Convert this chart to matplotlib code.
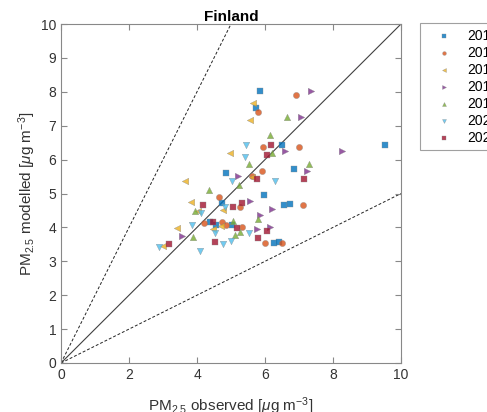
import matplotlib
matplotlib.use("Agg")
import matplotlib.pyplot as plt
import numpy as np

plt.rcParams['font.family'] = ['Liberation Sans', 'DejaVu Sans']
plt.rcParams['mathtext.fontset'] = 'custom'
plt.rcParams['mathtext.rm'] = 'Liberation Sans'
plt.rcParams['mathtext.it'] = 'Liberation Sans:italic'

years = ['2015', '2016', '2017', '2018', '2019', '2020', '2021']

# observed / modelled per year
obs_2015 = [5.86, 5.74, 6.50, 9.53, 6.85, 4.85, 5.96, 4.74, 6.57, 6.74, 4.37, 4.55, 5.02, 6.27, 6.41]
mod_2015 = [8.03, 7.51, 6.44, 6.44, 5.72, 5.59, 4.96, 4.71, 4.65, 4.69, 4.17, 4.06, 4.07, 3.54, 3.57]

obs_2016 = [6.92, 5.79, 5.94, 6.99, 5.92, 5.61, 4.66, 5.27, 7.13, 4.21, 4.74, 4.86, 5.33, 6.00, 6.51]
mod_2016 = [7.91, 7.41, 6.38, 6.38, 5.65, 5.52, 4.89, 4.60, 4.66, 4.13, 4.17, 4.06, 4.00, 3.54, 3.54]

obs_2017 = [5.64, 5.57, 4.98, 5.62, 3.65, 3.82, 4.02, 4.75, 4.71, 3.40, 4.46, 2.99]
mod_2017 = [7.66, 7.16, 6.19, 5.50, 5.36, 4.75, 4.47, 4.50, 4.05, 3.99, 3.96, 3.44]

obs_2018 = [7.34, 7.06, 8.25, 6.60, 7.24, 5.22, 5.55, 6.21, 5.85, 6.14, 5.76, 3.56]
mod_2018 = [8.01, 7.27, 6.25, 6.25, 5.65, 5.52, 4.79, 4.55, 4.36, 4.01, 3.94, 3.75]

obs_2019 = [6.65, 6.15, 6.22, 5.53, 7.29, 5.24, 4.36, 3.94, 5.80, 5.06, 5.25, 3.87, 5.11]
mod_2019 = [7.27, 6.74, 6.19, 5.87, 5.87, 5.24, 5.10, 4.48, 4.25, 4.19, 3.86, 3.73, 3.77]

obs_2020 = [5.44, 5.41, 5.03, 6.29, 4.82, 4.13, 3.85, 4.53, 5.54, 4.99, 4.75, 2.89, 4.08]
mod_2020 = [6.44, 6.07, 5.37, 5.37, 4.59, 4.43, 4.07, 3.84, 3.84, 3.60, 3.51, 3.43, 3.31]

obs_2021 = [6.18, 6.05, 5.75, 7.16, 4.17, 5.31, 5.07, 4.47, 5.18, 6.07, 5.78, 4.53, 3.17]
mod_2021 = [6.43, 6.13, 5.43, 5.44, 4.67, 4.73, 4.61, 4.17, 3.97, 3.89, 3.69, 3.57, 3.51]

obs = [obs_2015, obs_2016, obs_2017, obs_2018, obs_2019, obs_2020, obs_2021]
mod = [mod_2015, mod_2016, mod_2017, mod_2018, mod_2019, mod_2020, mod_2021]

colors = ['#0072BD', '#D95319', '#EDB120', '#7E2F8E', '#77AC30', '#4DBEEE', '#A2142F']
markers = ['s', 'o', '<', '>', '^', 'v', 's']
sizes = [13, 20, 22, 22, 22, 22, 13]

fig = plt.figure(figsize=(4.87, 4.12), dpi=100)
ax = fig.add_axes([61 / 487, 49 / 412, 340 / 487, 339 / 412])

xx = np.array([0, 10])
ax.plot(xx, xx, color='#404040', lw=0.8, zorder=1)
ax.plot(xx, 2 * xx, color='#222222', lw=0.7, ls=(0, (3, 2)), zorder=1)
ax.plot(xx, 0.5 * xx, color='#222222', lw=0.7, ls=(0, (3, 2)), zorder=1)

for i in range(len(years)):
    ax.scatter(obs[i], mod[i], s=sizes[i], marker=markers[i], color=colors[i],
               alpha=0.8, edgecolors='#888888', linewidths=0.3, label=years[i], zorder=2)

ax.set_xlim(0, 10)
ax.set_ylim(0, 10)
ax.set_xticks([0, 2, 4, 6, 8, 10])
ax.set_yticks(range(11))
ax.tick_params(direction='in', top=True, right=True, labelsize=10,
               colors='#888888', labelcolor='#333333', length=4, width=0.8)
for sp in ax.spines.values():
    sp.set_color('#888888')
    sp.set_linewidth(0.8)

ax.set_title('Finland', fontsize=11, fontweight='bold', pad=2)
ax.set_xlabel(r'PM$_{2.5}$ observed [$\mu$g m$^{-3}$]', fontsize=11, color='#333333', labelpad=10)
ax.set_ylabel(r'PM$_{2.5}$ modelled [$\mu$g m$^{-3}$]', fontsize=11, color='#333333', labelpad=2)

leg = fig.legend(loc='upper left', bbox_to_anchor=(420 / 487, 1 - 23 / 412), fontsize=10,
                 frameon=True, fancybox=False, edgecolor='#888888', handletextpad=0.33,
                 labelspacing=0.22, borderpad=0.4, borderaxespad=0, handlelength=2.65,
                 markerscale=0.6)
leg.get_frame().set_linewidth(0.8)

fig.savefig('out.png', dpi=100)
